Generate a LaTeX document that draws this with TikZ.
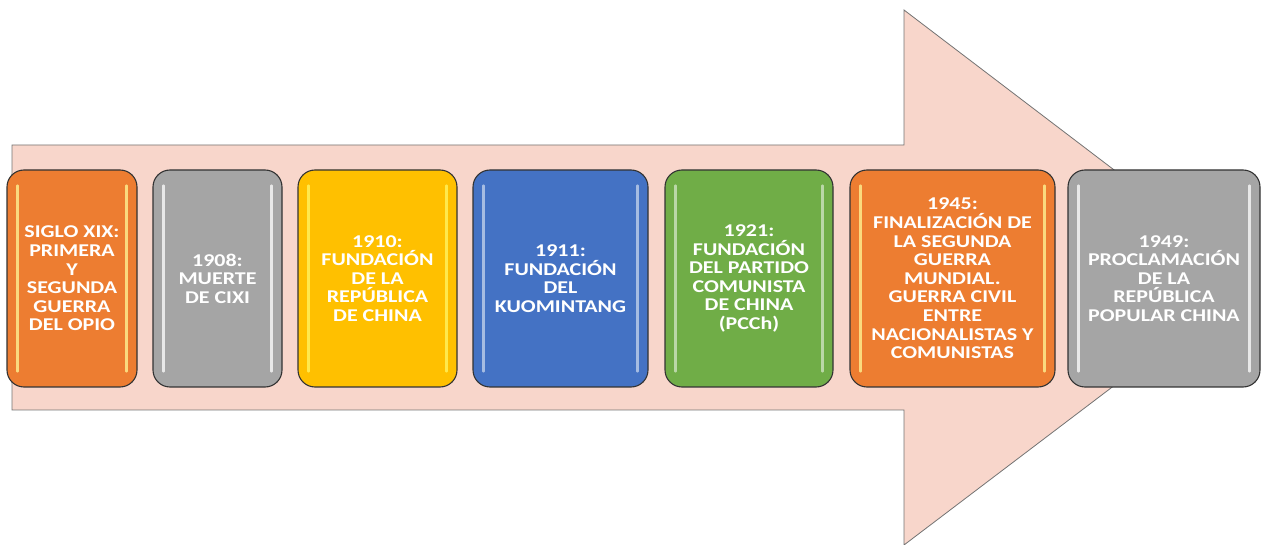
\documentclass[tikz,border=0pt]{standalone}
\usepackage{fontspec}
\setmainfont{Carlito}[FakeStretch=1.22]
\definecolor{flecha}{HTML}{F8D6CB}
\definecolor{naranja}{HTML}{ED7D31}
\definecolor{gris}{HTML}{A5A5A5}
\definecolor{oro}{HTML}{FFC000}
\definecolor{azul}{HTML}{4472C4}
\definecolor{verde}{HTML}{70AD47}
\tikzset{
  hito/.style={draw=black!80, line width=1.1pt, rounded corners=17pt, text=white,
    font=\bfseries\fontsize{18}{18.6}\selectfont, align=center,
    minimum height=217pt, inner sep=2pt},
  brillo/.style={line width=2.2pt, line cap=round, opacity=.75}
}
\begin{document}
\begin{tikzpicture}[x=1pt,y=-1pt]
\useasboundingbox (0,0) rectangle (1262,545);

  \draw[fill=flecha, draw=black!55, line width=.8pt] (12,145) -- (904,145) -- (904,10) -- (1256,278)
    -- (904,545) -- (904,410) -- (12,410) -- cycle;

\node[hito, fill=naranja, minimum width=130pt] (b1) at (72,278.5) {SIGLO XIX:\\PRIMERA\\Y\\SEGUNDA\\GUERRA\\DEL OPIO};
\node[hito, fill=gris,    minimum width=129pt] (b2) at (217.5,278.5) {1908:\\MUERTE\\DE CIXI};
\node[hito, fill=oro,     minimum width=159pt] (b3) at (377.5,278.5) {1910:\\FUNDACIÓN\\DE LA\\REPÚBLICA\\DE CHINA};
\node[hito, fill=azul,    minimum width=175pt] (b4) at (560.5,278.5) {1911:\\FUNDACIÓN\\DEL\\KUOMINTANG};
\node[hito, fill=verde,   minimum width=168pt] (b5) at (749,278.5) {1921:\\FUNDACIÓN\\DEL PARTIDO\\COMUNISTA\\DE CHINA\\(PCCh)};
\node[hito, fill=naranja, minimum width=205pt] (b6) at (952.5,278.5) {1945:\\FINALIZACIÓN DE\\LA SEGUNDA\\GUERRA\\MUNDIAL.\\GUERRA CIVIL\\ENTRE\\NACIONALISTAS Y\\COMUNISTAS};
\node[hito, fill=gris,    minimum width=192pt] (b7) at (1164,278.5) {1949:\\PROCLAMACIÓN\\DE LA\\REPÚBLICA\\POPULAR CHINA};

% brillo de los bordes
\foreach \b/\c in {b1/yellow!40!white, b2/white, b3/yellow!60!white, b4/azul!30!white,
                   b5/verde!30!white, b6/yellow!40!white, b7/white} {
  \draw[brillo, draw=\c] ([xshift=11pt,yshift=-16pt]\b.north west) -- ([xshift=11pt,yshift=16pt]\b.south west);
  \draw[brillo, draw=\c] ([xshift=-11pt,yshift=-16pt]\b.north east) -- ([xshift=-11pt,yshift=16pt]\b.south east);
}

\end{tikzpicture}
\end{document}
